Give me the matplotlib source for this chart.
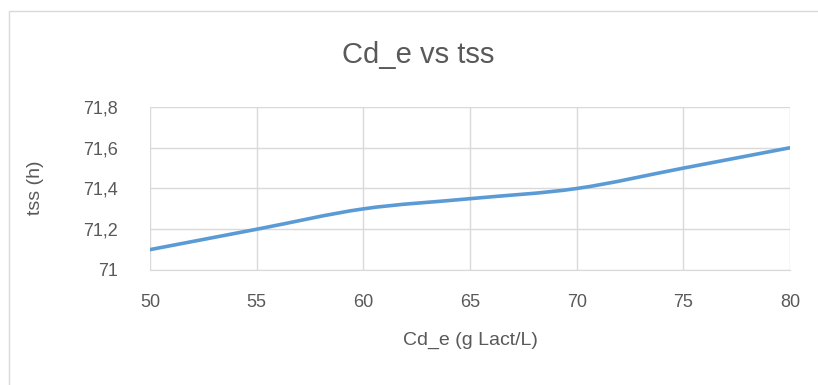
import matplotlib
matplotlib.use("Agg")
import matplotlib.pyplot as plt
from matplotlib.path import Path
from matplotlib.patches import PathPatch, Rectangle

# data
cd_e = [50, 55, 60, 65, 70, 75, 80]
tss = [71.1, 71.2, 71.3, 71.35, 71.4, 71.5, 71.6]
x_ticks = [50, 55, 60, 65, 70, 75, 80]
y_ticks = [71.0, 71.2, 71.4, 71.6, 71.8]
y_labels = ["71", "71,2", "71,4", "71,6", "71,8"]

plt.rcParams['font.family'] = ['Liberation Sans', 'DejaVu Sans']
txt = '#595959'
grid = '#d9d9d9'

fig = plt.figure(figsize=(8.18, 3.85), dpi=100)
ax = fig.add_axes([150 / 818, 1 - 270 / 385, 640 / 818, 163 / 385])

# smoothed line, Excel style (Catmull-Rom -> cubic Bezier)
verts = [(cd_e[0], tss[0])]
codes = [Path.MOVETO]
n = len(cd_e)
for i in range(n - 1):
    p0 = (cd_e[max(i - 1, 0)], tss[max(i - 1, 0)])
    p1 = (cd_e[i], tss[i])
    p2 = (cd_e[i + 1], tss[i + 1])
    p3 = (cd_e[min(i + 2, n - 1)], tss[min(i + 2, n - 1)])
    c1 = (p1[0] + (p2[0] - p0[0]) / 6, p1[1] + (p2[1] - p0[1]) / 6)
    c2 = (p2[0] - (p3[0] - p1[0]) / 6, p2[1] - (p3[1] - p1[1]) / 6)
    verts += [c1, c2, p2]
    codes += [Path.CURVE4] * 3
ax.add_patch(PathPatch(Path(verts, codes), fill=False, edgecolor='#5b9bd5',
                       lw=2.6, capstyle='round', zorder=3))

ax.set_xlim(50, 80)
ax.set_ylim(71.0, 71.8)
ax.set_xticks(x_ticks)
ax.set_yticks(y_ticks)
ax.set_yticklabels(y_labels)
ax.grid(True, color=grid, lw=1)
for s in ['top', 'right', 'left']:
    ax.spines[s].set_visible(False)
ax.spines['bottom'].set_color(grid)
ax.tick_params(length=0, colors=txt, labelsize=13)
ax.tick_params(axis='x', pad=17)
ax.tick_params(axis='y', pad=23)

fig.text(470 / 818, 1 - 340 / 385, 'Cd_e (g Lact/L)', color=txt, fontsize=14,
         ha='center', va='center')
fig.text(36 / 818, 1 - 188 / 385, 'tss (h)', color=txt, fontsize=14,
         rotation=90, ha='center', va='center')
fig.text(418 / 818, 1 - 55 / 385, 'Cd_e vs tss', color=txt, fontsize=21,
         ha='center', va='center')

fig.patches.append(Rectangle((9 / 818, -0.1), 1.0, 1 - 11 / 385 + 0.1,
                             transform=fig.transFigure, fill=False,
                             edgecolor=grid, lw=1))

fig.savefig('out.png', dpi=100)
